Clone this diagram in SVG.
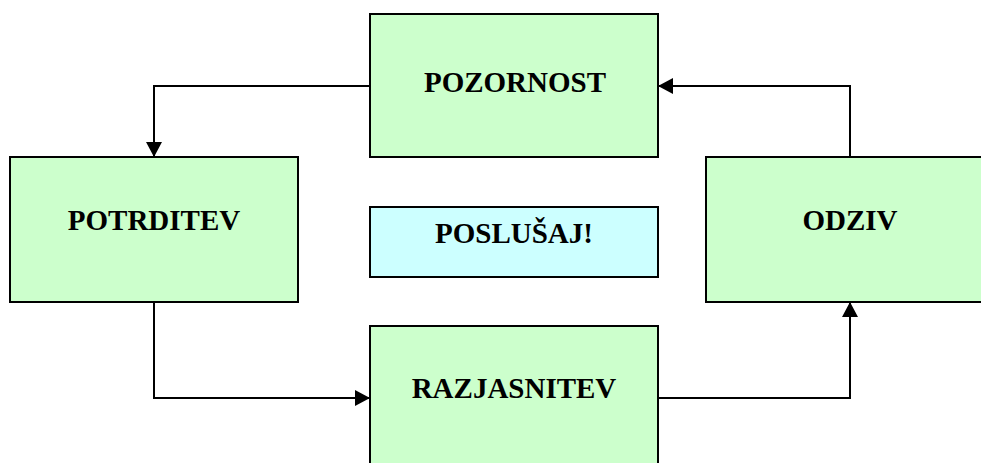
<svg xmlns="http://www.w3.org/2000/svg" width="981" height="463" viewBox="0 0 981 463">
<style>
.box{fill:#CCFFCC;stroke:#000;stroke-width:2}
.cyan{fill:#CCFFFF;stroke:#000;stroke-width:2}
.lbl{font-family:"Liberation Serif","Times New Roman",serif;font-weight:bold;font-size:29px;fill:#000;text-anchor:middle}
.con{fill:none;stroke:#000;stroke-width:2}
</style>
<defs>
<marker id="ah" markerUnits="userSpaceOnUse" markerWidth="16" markerHeight="16" refX="15" refY="8" orient="auto">
<path d="M0,0 L15,8 L0,16 Z" fill="#000"/>
</marker>
</defs>
<rect width="981" height="463" fill="#fff"/>
<g id="connectors">
<path class="con" d="M370,86 H154 V157" marker-end="url(#ah)"/>
<path class="con" d="M154,302 V398 H370" marker-end="url(#ah)"/>
<path class="con" d="M658,398 H850 V302" marker-end="url(#ah)"/>
<path class="con" d="M850,157 V86 H658" marker-end="url(#ah)"/>
</g>
<g id="pozornost">
<rect class="box" x="370" y="14" width="288" height="143"/>
<text class="lbl" x="515" y="92">POZORNOST</text>
</g>
<g id="potrditev">
<rect class="box" x="10" y="157" width="288" height="145"/>
<text class="lbl" x="154" y="230">POTRDITEV</text>
</g>
<g id="poslusaj">
<rect class="cyan" x="370" y="207" width="288" height="70"/>
<text class="lbl" x="514" y="243">POSLUŠAJ!</text>
</g>
<g id="odziv">
<rect class="box" x="706" y="157" width="288" height="145"/>
<text class="lbl" x="850" y="230">ODZIV</text>
</g>
<g id="razjasnitev">
<rect class="box" x="370" y="326" width="288" height="145"/>
<text class="lbl" x="514" y="398">RAZJASNITEV</text>
</g>
</svg>
